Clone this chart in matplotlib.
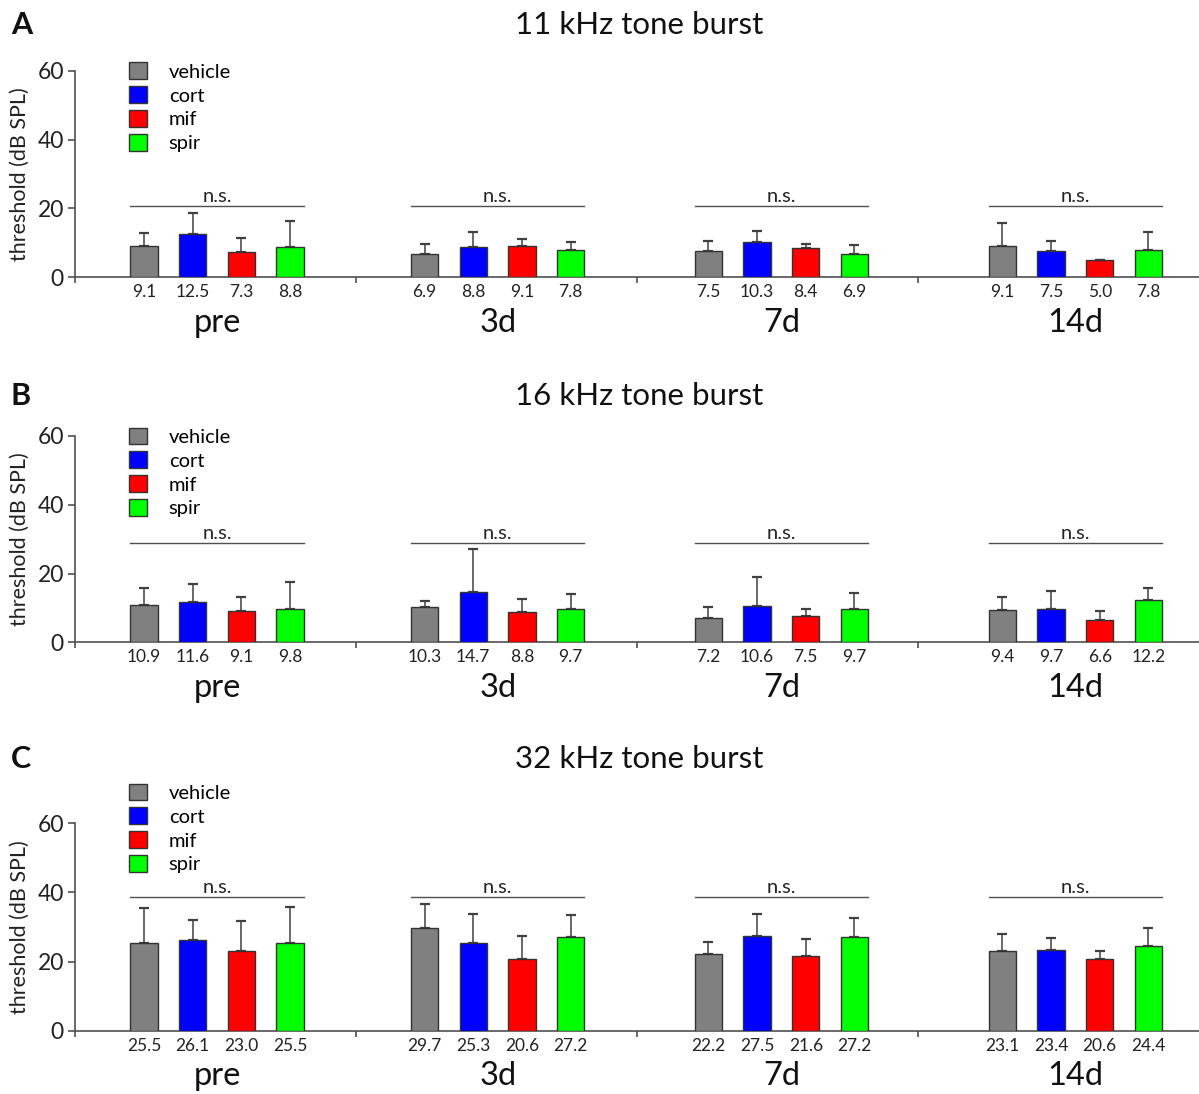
import matplotlib
matplotlib.use("Agg")
import matplotlib.pyplot as plt
import numpy as np
from matplotlib.patches import Patch

plt.rcParams["font.family"] = ["Lato", "DejaVu Sans"]

timepoints = ["pre", "3d", "7d", "14d"]
treatments = ["vehicle", "cort", "mif", "spir"]
colors = ["#808080", "#0000ff", "#ff0000", "#00ff00"]

panel_letters = ["A", "B", "C"]
panel_titles = ["11 kHz tone burst", "16 kHz tone burst", "32 kHz tone burst"]

# mean threshold (dB SPL); rows = timepoint, cols = treatment
means_11k = [[9.1, 12.5, 7.3, 8.8],
             [6.9, 8.8, 9.1, 7.8],
             [7.5, 10.3, 8.4, 6.9],
             [9.1, 7.5, 5.0, 7.8]]
means_16k = [[10.9, 11.6, 9.1, 9.8],
             [10.3, 14.7, 8.8, 9.7],
             [7.2, 10.6, 7.5, 9.7],
             [9.4, 9.7, 6.6, 12.2]]
means_32k = [[25.5, 26.1, 23.0, 25.5],
             [29.7, 25.3, 20.6, 27.2],
             [22.2, 27.5, 21.6, 27.2],
             [23.1, 23.4, 20.6, 24.4]]

# upper error bars (SD), same layout
err_11k = [[3.7, 6.1, 4.0, 7.6],
           [2.9, 4.3, 2.1, 2.6],
           [3.0, 3.1, 1.3, 2.4],
           [6.7, 3.1, 0.0, 5.4]]
err_16k = [[4.8, 5.3, 4.1, 7.6],
           [1.7, 12.4, 3.7, 4.4],
           [3.1, 8.5, 2.1, 4.6],
           [3.7, 5.1, 2.5, 3.7]]
err_32k = [[9.9, 6.0, 8.7, 10.2],
           [7.0, 8.6, 6.7, 6.2],
           [3.6, 6.3, 4.8, 5.5],
           [4.9, 3.5, 2.5, 5.4]]

# height of the "n.s." bracket in each panel
ns_levels = [20.8, 29.0, 38.8]

# layout
panel_boxes = [(0.0626, 0.7465, 0.9374, 0.1889),
               (0.0626, 0.4129, 0.9374, 0.1886),
               (0.0626, 0.0579, 0.9374, 0.1895)]
title_y = [0.9771, 0.638, 0.3062]
legend_top = [0.9430, 0.6091, 0.2837]
group_centers = [0.505, 1.504, 2.514, 3.56]
bar_step = 0.1733
bar_width = 0.097
axis_color = "#505050"


def draw_panel(fig, idx, means, errs):
    ax = fig.add_axes(panel_boxes[idx])
    means = np.array(means)
    errs = np.array(errs)
    offsets = (np.arange(len(treatments)) - 1.5) * bar_step

    all_x = []
    all_labels = []
    for g, center in enumerate(group_centers):
        xs = center + offsets
        for t in range(len(treatments)):
            ax.bar(xs[t], means[g, t], width=bar_width, color=colors[t],
                   edgecolor="#333333", linewidth=1.0, zorder=3)
            ax.errorbar(xs[t], means[g, t], yerr=[[0], [errs[g, t]]],
                        fmt="none", ecolor="#404040", elinewidth=1.1,
                        capsize=3.5, capthick=1.6, zorder=2)
        all_x.extend(xs)
        all_labels.extend(f"{v:.1f}" for v in means[g])

        left = xs[0] - bar_width / 2
        right = xs[-1] + bar_width / 2
        ax.plot([left, right], [ns_levels[idx]] * 2, color="#505050", lw=1.0)
        ax.annotate("n.s.", xy=(center, ns_levels[idx]), xytext=(0, 0.3),
                    textcoords="offset points", ha="center", va="bottom",
                    fontsize=14.5, color="#222222")
        ax.annotate(timepoints[g], xy=(center, 0),
                    xycoords=("data", "axes fraction"), xytext=(0, -33),
                    textcoords="offset points", ha="center", va="center",
                    fontsize=23.5, color="#111111")

    ax.set_xlim(0, 4)
    ax.set_ylim(0, 60)
    ax.set_xticks(all_x, labels=all_labels, fontsize=12.5)
    ax.set_xticks([0, 1, 2, 3], minor=True)
    ax.tick_params(axis="x", which="major", length=0, pad=5, colors="#222222")
    ax.tick_params(axis="x", which="minor", length=4, width=1.2,
                   direction="out", color=axis_color)
    ax.set_yticks([0, 20, 40, 60])
    ax.tick_params(axis="y", length=5, width=1.2, direction="out",
                   color=axis_color, labelsize=16.5, labelcolor="#222222", pad=3)
    for side in ["top", "right"]:
        ax.spines[side].set_visible(False)
    for side in ["left", "bottom"]:
        ax.spines[side].set_color(axis_color)
        ax.spines[side].set_linewidth(1.2)
    ax.set_ylabel("threshold (dB SPL)", fontsize=15.5, color="#222222")
    ax.yaxis.set_label_coords(-0.040, 0.5)

    handles = [Patch(facecolor=c, edgecolor="#333333", linewidth=1.0)
               for c in colors]
    fig.legend(handles, treatments, loc="upper left",
               bbox_to_anchor=(0.1076, legend_top[idx]),
               bbox_transform=fig.transFigure, frameon=False, fontsize=14.5,
               handlelength=0.87, handleheight=0.91, handletextpad=1.1,
               labelspacing=0.27, borderpad=0, borderaxespad=0)

    fig.text(0.533, title_y[idx], panel_titles[idx], ha="center", va="center",
             fontsize=22.5, color="#111111")
    fig.text(0.009, title_y[idx], panel_letters[idx], ha="left", va="center",
             fontsize=22, fontweight="bold", color="#111111")
    return ax


def main():
    fig = plt.figure(figsize=(11.99, 10.94), dpi=100)
    draw_panel(fig, 0, means_11k, err_11k)
    draw_panel(fig, 1, means_16k, err_16k)
    draw_panel(fig, 2, means_32k, err_32k)
    fig.savefig("out.png", dpi=100)
    plt.close(fig)


if __name__ == "__main__":
    main()
